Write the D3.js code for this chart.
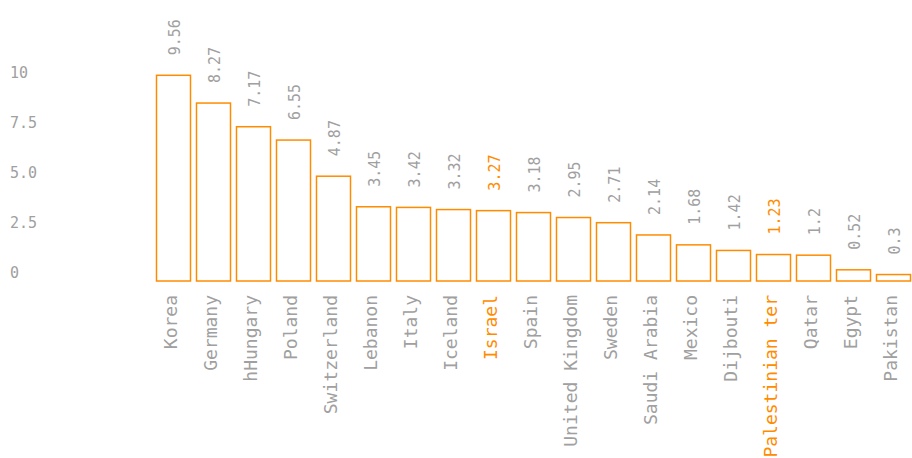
<!DOCTYPE html>
<html>
<head>
<meta charset="utf-8">
<script src="https://cdn.jsdelivr.net/npm/d3@7"></script>
<style>
  html, body { margin: 0; padding: 0; background: #fff; }
  svg { display: block; font-family: "DejaVu Sans Mono", monospace; }
</style>
</head>
<body>
<svg id="chart" width="912" height="458"></svg>
<script>
const countries = ["Korea","Germany","hHungary","Poland","Switzerland","Lebanon","Italy","Iceland","Israel","Spain","United Kingdom","Sweden","Saudi Arabia","Mexico","Dijbouti","Palestinian ter","Qatar","Egypt","Pakistan"];
const values = [9.56, 8.27, 7.17, 6.55, 4.87, 3.45, 3.42, 3.32, 3.27, 3.18, 2.95, 2.71, 2.14, 1.68, 1.42, 1.23, 1.2, 0.52, 0.3];
const highlighted = ["Israel", "Palestinian ter"];
const yTickValues = [0, 2.5, 5, 7.5, 10];
const yTickLabels = ["0", "2.5", "5.0", "7.5", "10"];

const ORANGE = "#ff8c00";
const GRAY = "#a0a0a0";

const data = countries.map((c, i) => ({ country: c, value: values[i] }));
const svg = d3.select("#chart");

const x = d3.scaleBand()
  .domain(countries)
  .range([153.5, 913.5])
  .paddingInner(0.15)
  .paddingOuter(0.075);

const yBar = d3.scaleLinear().domain([0, d3.max(values)]).range([281, 75.3]);
const yAxisScale = d3.scaleLinear().domain([0, 10]).range([272.5, 71.7]);

// y axis labels
const yAxis = d3.axisLeft(yAxisScale)
  .tickValues(yTickValues)
  .tickFormat((d, i) => yTickLabels[i])
  .tickSize(0);
const gy = svg.append("g").attr("transform", "translate(10,0)").call(yAxis);
gy.select(".domain").remove();
gy.selectAll("text")
  .attr("x", 0)
  .attr("text-anchor", "start")
  .attr("dy", "0.36em")
  .attr("fill", GRAY)
  .style("font-size", "15px")
  .style("font-family", "'DejaVu Sans Mono', monospace");

// bars
svg.append("g").selectAll("rect")
  .data(data)
  .join("rect")
  .attr("x", d => x(d.country))
  .attr("y", d => yBar(d.value))
  .attr("width", x.bandwidth())
  .attr("height", d => yBar(0) - yBar(d.value))
  .attr("fill", "#fff")
  .attr("stroke", ORANGE)
  .attr("stroke-width", 1.5);

// value labels
svg.append("g").selectAll("text")
  .data(data)
  .join("text")
  .attr("transform", d => `translate(${x(d.country) + x.bandwidth() / 2},${yBar(d.value) - 20}) rotate(-90)`)
  .attr("text-anchor", "start")
  .attr("dy", "0.4em")
  .attr("fill", d => highlighted.includes(d.country) ? ORANGE : GRAY)
  .style("font-size", "15px")
  .text(d => d.value);

// x axis labels
const xAxis = d3.axisBottom(x).tickSize(0);
const gx = svg.append("g").attr("transform", "translate(0,281)").call(xAxis);
gx.select(".domain").remove();
gx.selectAll("text")
  .attr("transform", "rotate(-90)")
  .attr("x", -14)
  .attr("y", 0)
  .attr("dy", "0.22em")
  .attr("text-anchor", "end")
  .attr("fill", d => highlighted.includes(d) ? ORANGE : GRAY)
  .style("font-size", "18px")
  .style("font-family", "'DejaVu Sans Mono', monospace");
</script>
</body>
</html>
